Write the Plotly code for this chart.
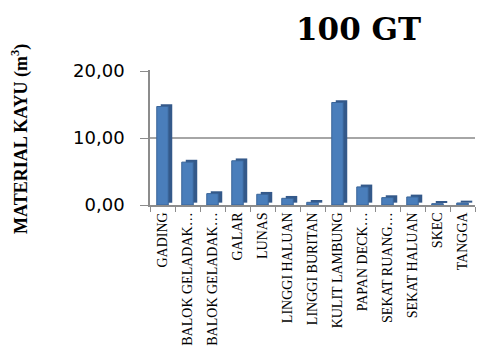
import plotly.graph_objects as go

categories = ["GADING", "BALOK GELADAK…", "BALOK GELADAK…", "GALAR", "LUNAS",
              "LINGGI HALUAN", "LINGGI BURITAN", "KULIT LAMBUNG", "PAPAN DECK…",
              "SEKAT RUANG…", "SEKAT HALUAN", "SKEC", "TANGGA"]
values = [14.7, 6.4, 1.7, 6.6, 1.6, 1.0, 0.4, 15.3, 2.7, 1.1, 1.2, 0.2, 0.3]
y_ticks = [0, 10, 20]
y_ticklabels = ["0,00", "10,00", "20,00"]

x_idx = list(range(len(categories)))
bar_w = 0.46
depth_x = 0.16   # pseudo-3D side offset (category units)
depth_y = 0.35   # pseudo-3D top offset (value units)

fig = go.Figure()
# darker side/top face for a pseudo-3D look
fig.add_trace(go.Bar(
    x=x_idx, y=values, base=depth_y,
    offset=-bar_w / 2 + depth_x, width=bar_w,
    marker=dict(color="#34598a", line=dict(width=0)),
    hoverinfo="skip",
))
fig.add_trace(go.Bar(
    x=x_idx, y=values,
    offset=-bar_w / 2, width=bar_w,
    marker=dict(color="#4a7ebb", line=dict(color="#3a6599", width=1)),
))

W, H = 478, 354
l, r, t, b = 150, 3, 70, 149
pw, ph = W - l - r, H - t - b

def px2paper(xx, yy):
    return (xx - l) / pw, 1 - (yy - t) / ph

tx, ty = px2paper(358, 29)
ax, ay = px2paper(20, 139)

fig.update_layout(
    width=W, height=H,
    margin=dict(l=l, r=r, t=t, b=b),
    paper_bgcolor="white", plot_bgcolor="white",
    showlegend=False, barmode="overlay",
    xaxis=dict(
        tickmode="array", tickvals=x_idx, ticktext=categories,
        tickangle=-90, range=[-0.5, len(categories) - 0.5],
        showgrid=False, showline=True, linecolor="#8c8c8c", linewidth=1.5,
        ticks="",
        minor=dict(ticks="outside", tickmode="linear", tick0=-0.5, dtick=1,
                   ticklen=5, tickcolor="#8c8c8c", showgrid=False),
        tickfont=dict(family="Liberation Serif", size=14, color="black"),
        automargin=False,
    ),
    yaxis=dict(
        tickmode="array", tickvals=y_ticks, ticktext=y_ticklabels,
        range=[0, 20.15], showgrid=True, gridcolor="#a6a6a6", gridwidth=1.5,
        showline=True, linecolor="#8c8c8c", linewidth=1.5,
        ticks="outside", ticklen=8, tickcolor="#8c8c8c",
        ticklabelstandoff=12,
        tickfont=dict(family="DejaVu Sans", size=18, color="black"),
        zeroline=False, automargin=False,
    ),
    annotations=[
        dict(text="<b>100 GT</b>", x=tx, y=ty, xref="paper", yref="paper",
             xanchor="center", yanchor="middle", showarrow=False,
             font=dict(family="DejaVu Serif", size=31, color="black")),
        dict(text="<b>MATERIAL KAYU (m<sup>3</sup>)</b>", x=ax, y=ay,
             xref="paper", yref="paper", xanchor="center", yanchor="middle",
             showarrow=False, textangle=-90,
             font=dict(family="Liberation Serif", size=18, color="black")),
    ],
)

fig.write_html("out.html")
